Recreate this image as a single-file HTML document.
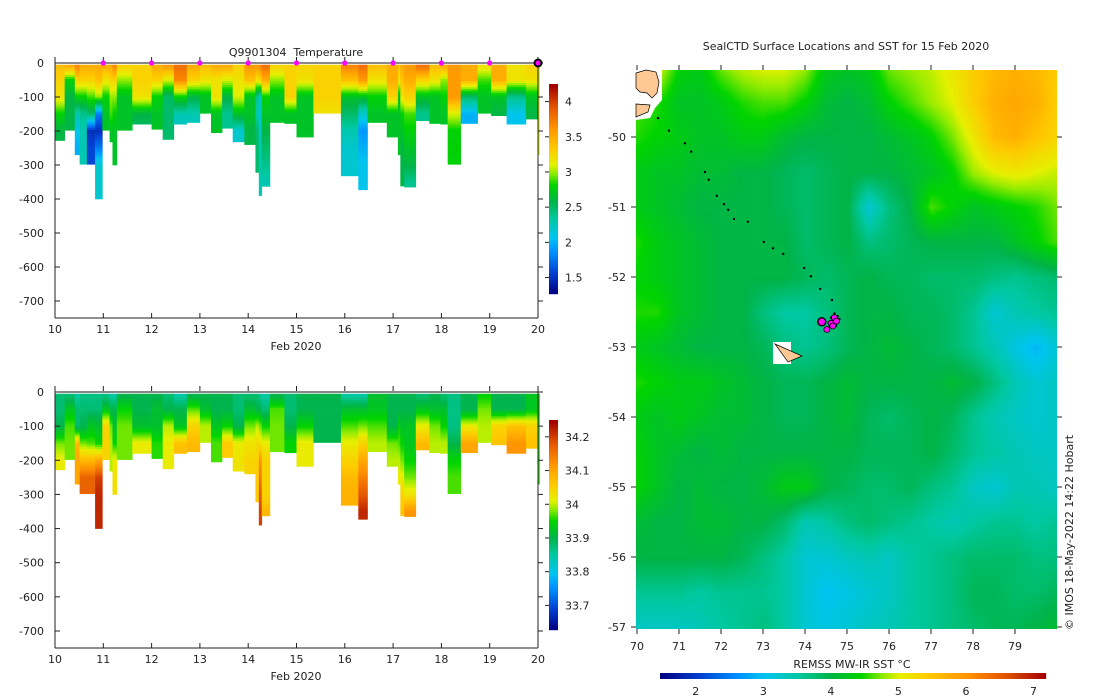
<!DOCTYPE html>
<html><head><meta charset="utf-8">
<style>
html,body{margin:0;padding:0;background:#fff;}
#root{position:relative;width:1100px;height:700px;overflow:hidden;font-family:"DejaVu Sans","Liberation Sans",sans-serif;}
svg{position:absolute;left:0;top:0;}
text{font-family:"DejaVu Sans","Liberation Sans",sans-serif;font-size:11px;fill:#222;}
canvas{position:absolute;}
</style></head>
<body>
<div id="root">
<canvas id="sst" width="421" height="559" style="left:636px;top:70px"></canvas>
<svg id="svg" width="1100" height="700"></svg>
</div>
<script>
// ---------- data ----------
const depthLevels=[10,50,100,150,200,250,300,350,400];
const profStart=[10.00,10.20,10.41,10.51,10.66,10.83,10.98,11.13,11.19,11.28,11.60,12.00,12.23,12.46,12.73,13.00,13.23,13.46,13.68,13.92,14.15,14.22,14.28,14.45,14.75,15.00,15.35,15.92,16.28,16.47,16.87,17.10,17.15,17.23,17.47,17.75,17.98,18.13,18.40,18.75,19.03,19.35,19.75,20.00];
const profEnd=[10.20,10.41,10.51,10.66,10.83,10.98,11.13,11.19,11.28,11.60,12.00,12.23,12.46,12.73,13.00,13.23,13.46,13.68,13.92,14.15,14.22,14.28,14.45,14.75,15.00,15.35,15.92,16.28,16.47,16.87,17.10,17.15,17.23,17.47,17.75,17.98,18.13,18.40,18.75,19.03,19.35,19.75,20.00,20.03];
const profMaxDepth=[228,198,270,298,298,400,198,232,300,198,180,195,225,180,175,148,205,192,232,240,322,390,363,175,178,218,148,332,373,175,218,270,362,365,170,178,180,298,178,148,155,180,165,270];
const tempProfiles=[
[3.4,3.3,3.2,2.8,2.6,2.6],[3.5,2.8,2.6,2.6,2.6],[3.7,3.3,2.8,2.3,2.1,2.0],[3.5,3.3,2.8,2.4,2.3,2.3],[3.5,3.3,2.9,2.5,1.5,1.6],
[3.5,3.4,3.0,1.8,1.5,1.8,2.2,2.2,2.2],[3.5,3.2,2.8,2.7,2.7],[3.5,3.3,3.0,2.9,2.7],[3.7,3.3,3.0,2.8,2.7,2.7,2.7],[3.3,3.0,2.7,2.7,2.7],
[3.3,3.3,3.2,2.6,2.5],[3.5,3.3,2.8,2.7,2.7],[3.6,3.1,2.5,2.5,2.5],[3.8,3.7,2.8,2.3,2.2],[3.5,3.3,2.6,2.3,2.2],
[3.4,3.2,2.7,2.7],[3.5,3.2,3.2,2.7,2.7],[3.5,3.1,2.6,2.4,2.4],[3.3,3.2,3.1,2.7,2.2],[3.6,3.4,2.7,2.7,2.6,2.6],
[3.6,3.2,2.4,2.3,2.5,2.5,2.5],[3.7,3.3,2.2,2.2,2.2,2.3,2.3,2.3,2.3],[3.8,3.5,2.8,2.7,2.6,2.5,2.4,2.3],[3.3,3.0,2.7,2.7],[3.3,3.3,3.3,2.7],
[3.3,3.2,2.7,2.7,2.7],[3.3,3.3,3.3,3.2],[3.7,3.4,2.7,2.5,2.3,2.2,2.2,2.2],[3.8,3.6,2.7,2.2,1.9,2.0,2.1,2.1,2.1],[3.4,3.2,2.8,2.7],
[3.5,3.5,3.3,2.7,2.7],[3.4,3.2,2.7,2.7,2.7,2.7],[3.5,3.4,3.2,2.8,2.7,2.6,2.6,2.6],[3.6,3.5,3.3,2.9,2.8,2.7,2.6,2.4],[3.8,3.3,2.7,2.4],
[3.4,3.2,2.7,2.7],[3.5,3.0,2.8,2.7],[3.6,3.6,3.6,3.1,2.8,2.8,2.8],[3.5,3.5,2.5,2.0],[3.2,2.9,2.7,2.7],
[3.5,3.5,2.7,2.6],[3.2,3.2,2.4,2.1],[3.3,3.2,2.7,2.6],[3.1,3.1,3.1]];
const salProfiles=[
[33.88,33.88,33.9,33.98,34.02],[33.88,33.93,33.97,33.98,33.98],[33.85,33.88,33.88,34.08,34.1,34.1],[33.87,33.88,33.9,33.98,34.08,34.17],[33.87,33.88,33.93,33.97,34.08,34.17],
[33.87,33.88,33.92,33.95,34.1,34.2,34.22,34.22,34.22],[33.87,33.93,34.05,34.05,34.05],[33.85,33.9,33.98,34.0,34.0],[33.85,33.9,33.92,33.95,34.02,34.03,34.04],[33.9,33.95,33.98,33.98,33.98],
[33.9,33.9,33.92,34.02,34.02],[33.9,33.92,33.92,33.96,33.96],[33.88,33.9,34.0,34.02,34.02],[33.85,33.9,33.93,34.07,34.08],[33.9,33.97,34.05,34.08],
[33.9,33.92,34.0,34.0],[33.9,33.9,33.93,33.97,33.97],[33.9,33.9,33.95,34.06,34.06],[33.88,33.88,33.9,34.02,34.03],[33.88,33.92,33.98,34.03,34.05],
[33.88,33.9,34.0,34.04,34.05,34.06,34.06],[33.86,33.9,33.98,34.03,34.12,34.15,34.18,34.2],[33.85,33.88,33.95,34.02,34.05,34.05,34.05,34.08],[33.9,33.97,33.98,33.98],[33.88,33.88,33.9,33.95],
[33.9,33.9,33.95,34.02,34.02],[33.9,33.9,33.9,33.9],[33.85,33.92,33.97,34.02,34.05,34.08,34.09,34.09],[33.85,33.92,33.98,34.05,34.1,34.14,34.18,34.22],[33.92,33.93,33.97,34.0],
[33.9,33.9,33.9,33.98,34.0],[33.9,33.9,33.95,33.97,34.0,34.02],[33.9,33.9,33.92,33.95,33.98,34.02,34.05,34.07],[33.9,33.9,33.93,33.93,33.95,33.98,34.03,34.12],[33.88,33.93,34.02,34.08],
[33.9,33.92,33.98,34.0],[33.88,33.92,33.95,34.0],[33.87,33.87,33.87,33.9,33.95,33.97,33.97],[33.9,33.9,34.02,34.1],[33.95,33.98,34.0,34.0],
[33.9,33.9,34.05,34.07],[33.9,33.9,34.07,34.12],[33.93,33.93,34.05,34.07],[33.95,33.95,33.96]];
const markerDays=[11,12,13,14,15,16,17,18,19];
const dayTicks=[10,11,12,13,14,15,16,17,18,19,20];
const depthTicks=[0,-100,-200,-300,-400,-500,-600,-700];
const tempCbTicks=[1.5,2,2.5,3,3.5,4];
const salCbTicks=[33.7,33.8,33.9,34,34.1,34.2];
const lonTicks=[70,71,72,73,74,75,76,77,78,79];
const latTicks=[-50,-51,-52,-53,-54,-55,-56,-57];
const sstCbTicks=[2,3,4,5,6,7];
const gridLons=[70,70.5,71,71.5,72,72.5,73,73.5,74,74.5,75,75.5,76,76.5,77,77.5,78,78.5,79,79.5,80];
const gridLats=[-49,-49.5,-50,-50.5,-51,-51.5,-52,-52.5,-53,-53.5,-54,-54.5,-55,-55.5,-56,-56.5,-57];
const sstGrid=[
[5.3,5.0,4.4,4.3,4.7,4.9,5.0,5.0,4.8,4.3,4.2,4.3,4.7,4.8,4.9,5.1,5.4,5.6,5.7,5.6,5.4],
[4.6,4.5,4.2,4.2,4.3,4.5,4.6,4.6,4.4,4.1,4.0,4.1,4.4,4.6,4.8,5.0,5.4,5.7,5.8,5.7,5.4],
[4.5,4.4,4.3,4.2,4.2,4.3,4.3,4.1,4.0,4.0,4.0,4.0,4.1,4.2,4.4,4.7,5.1,5.6,5.7,5.5,5.3],
[4.3,4.2,4.2,4.1,4.1,4.0,4.0,3.9,3.8,3.9,4.0,4.0,4.0,4.1,4.2,4.4,4.8,5.0,5.1,5.0,4.9],
[4.3,4.2,4.1,4.0,4.0,4.0,4.0,3.9,3.8,3.9,4.0,3.2,3.7,4.0,4.6,4.4,4.2,4.3,4.4,4.5,4.7],
[4.5,4.3,4.2,4.1,4.0,4.0,4.0,4.0,3.8,3.9,4.0,3.7,3.8,3.9,4.0,4.0,4.0,4.0,4.2,4.4,4.6],
[4.4,4.3,4.2,4.1,4.0,4.0,4.0,4.0,3.9,3.8,3.9,4.0,3.9,3.9,3.8,3.8,3.8,3.7,3.6,3.7,3.8],
[4.5,4.5,4.2,4.1,4.0,4.0,3.7,3.5,3.5,3.7,3.9,4.0,4.0,3.9,3.9,3.8,3.6,3.2,3.4,3.5,3.6],
[4.3,4.2,4.1,4.0,4.0,4.0,3.9,3.7,3.6,3.7,3.9,4.0,4.1,4.0,3.9,3.8,3.6,3.4,3.1,2.9,3.2],
[4.5,4.4,4.3,4.3,4.2,4.1,4.0,3.9,3.9,4.0,4.1,4.0,4.0,4.0,4.0,4.1,4.0,3.7,3.4,3.2,3.3],
[4.3,4.2,4.3,4.2,4.1,4.1,4.0,3.9,3.9,4.0,4.1,3.9,3.8,3.9,4.0,3.9,3.6,3.4,3.3,3.2,3.3],
[4.4,4.2,4.1,4.0,4.1,4.0,4.0,4.0,4.0,4.0,4.0,3.9,3.9,3.9,4.0,3.8,3.6,3.5,3.4,3.3,3.3],
[4.4,4.2,4.0,4.1,4.0,4.0,4.1,4.3,4.3,4.0,3.9,3.8,3.8,3.9,3.7,3.6,3.3,3.2,3.4,3.4,3.3],
[4.1,4.0,4.0,4.1,4.1,4.0,4.0,3.8,3.4,3.5,3.7,3.8,3.7,3.6,3.5,3.4,3.5,3.6,3.6,3.5,3.6],
[4.0,4.0,4.0,4.0,4.0,3.9,3.7,3.5,3.2,3.2,3.3,3.4,3.3,3.5,3.6,3.7,3.8,3.8,3.8,3.7,3.7],
[3.6,3.6,3.6,3.5,3.6,3.6,3.6,3.5,3.2,3.0,3.1,3.2,3.3,3.5,3.6,3.7,3.9,3.9,3.8,3.8,3.9],
[3.3,3.3,3.3,3.4,3.5,3.6,3.7,3.5,3.2,3.1,3.2,3.3,3.4,3.5,3.6,3.7,3.8,3.9,3.9,4.0,4.1]];
const trackLon=[70.50,70.76,71.14,71.29,71.62,71.71,71.90,72.07,72.17,72.31,72.64,73.02,73.24,73.48,73.98,74.14,74.36,74.64,74.70,74.62,74.78,74.66,74.74,74.58,74.82,74.55,74.68,74.72];
const trackLat=[-49.73,-49.91,-50.09,-50.21,-50.50,-50.61,-50.84,-50.96,-51.04,-51.17,-51.21,-51.50,-51.59,-51.67,-51.87,-51.99,-52.17,-52.33,-52.52,-52.58,-52.56,-52.65,-52.70,-52.72,-52.60,-52.76,-52.63,-52.68];
const surfLon=[74.40,74.62,74.70,74.75,74.66,74.52];
const surfLat=[-52.64,-52.66,-52.58,-52.63,-52.70,-52.75];

// ---------- colormap ----------
const cstops=[[0,[0,0,128]],[0.1,[0,64,208]],[0.2,[0,144,255]],[0.27,[0,196,240]],[0.36,[0,200,160]],[0.44,[0,180,72]],[0.52,[0,212,0]],[0.58,[150,236,0]],[0.62,[230,240,0]],[0.7,[255,200,0]],[0.8,[255,144,0]],[0.9,[224,80,0]],[1,[160,0,0]]];
function cmapArr(t){t=Math.max(0,Math.min(1,t));for(let i=1;i<cstops.length;i++){if(t<=cstops[i][0]){const a=cstops[i-1],b=cstops[i],f=(t-a[0])/(b[0]-a[0]);return a[1].map((v,k)=>Math.round(v+(b[1][k]-v)*f));}}return cstops[cstops.length-1][1];}
function cmap(t){const c=cmapArr(t);return`rgb(${c[0]},${c[1]},${c[2]})`;}
const NS='http://www.w3.org/2000/svg';
const svgRoot=document.getElementById('svg');
function el(tag,attrs,parent){const e=document.createElementNS(NS,tag);for(const k in attrs)e.setAttribute(k,attrs[k]);(parent||svgRoot).appendChild(e);return e;}
function txt(x,y,s,anchor,parent,extra){const t=el('text',Object.assign({x:x,y:y,'text-anchor':anchor||'middle'},extra||{}),parent);t.textContent=s;return t;}
function valAt(prof,d){if(d<=depthLevels[0])return prof[0];for(let i=1;i<prof.length;i++){if(d<=depthLevels[i]){const f=(d-depthLevels[i-1])/(depthLevels[i]-depthLevels[i-1]);return prof[i-1]+(prof[i]-prof[i-1])*f;}}return prof[prof.length-1];}

// ---------- section charts ----------
function section(cfg){
 const g=el('g',{});
 
 
 const X0=55,X1=538,xs=d=>X0+(d-10)*(X1-X0)/10;
 const ys=z=>cfg.y0+(-z)*cfg.ppm;
 for(let i=0;i<profStart.length;i++){
  const cg=el('g',{},g);
  
  
  const xa=xs(profStart[i]),xb=xs(profEnd[i]);
  for(let d=5;d<profMaxDepth[i];d+=6){
   const d2=Math.min(d+6,profMaxDepth[i]);
   const v=valAt(cfg.data[i],(d+d2)/2);
   el('rect',{x:xa.toFixed(2),y:ys(-d).toFixed(2),width:(xb-xa+0.3).toFixed(2),height:((d2-d)*cfg.ppm+0.3).toFixed(2),fill:cmap((v-cfg.vmin)/(cfg.vmax-cfg.vmin))},cg);
  }
 }
 const yBottom=ys(-750),yTop=ys(0)-6;
 el('line',{x1:X0,y1:yTop,x2:X0,y2:yBottom,stroke:'#222'},g);
 el('line',{x1:X1,y1:yTop,x2:X1,y2:yBottom,stroke:'#222'},g);
 el('line',{x1:X0,y1:yBottom,x2:X1,y2:yBottom,stroke:'#222'},g);
 el('line',{x1:X0,y1:ys(0),x2:X1,y2:ys(0),stroke:'#111'},g);
 dayTicks.forEach(d=>{el('line',{x1:xs(d),y1:yBottom,x2:xs(d),y2:yBottom-5,stroke:'#222'},g);el('line',{x1:xs(d),y1:yTop,x2:xs(d),y2:yTop+5,stroke:'#222'},g);const t=txt(xs(d),yBottom+15,String(d),'middle',g);});
 depthTicks.forEach(z=>{el('line',{x1:X0,y1:ys(z),x2:X0+5,y2:ys(z),stroke:'#222'},g);el('line',{x1:X1,y1:ys(z),x2:X1+5,y2:ys(z),stroke:'#222'},g);const t=txt(44,ys(z)+4,String(z),'end',g);});
 const xl=txt(296,yBottom+32,'Feb 2020','middle',g);
 
 
 const cb=el('g',{},g);
 
 
 const cy0=cfg.cbTop,cy1=cfg.cbBot;
 for(let y=cy0;y<cy1;y+=2){const v=cfg.vmax-(y-cy0)/(cy1-cy0)*(cfg.vmax-cfg.vmin);el('rect',{x:549,y:y,width:9,height:2.2,fill:cmap((v-cfg.vmin)/(cfg.vmax-cfg.vmin))},cb);}
 cfg.cbTicks.forEach(v=>{const y=cy1-(v-cfg.vmin)/(cfg.vmax-cfg.vmin)*(cy1-cy0);el('line',{x1:549,y1:y,x2:545,y2:y,stroke:'#222'},cb);const t=txt(565,y+4,String(v),'start',cb);});
 return {g,xs,ys};
}
const topSec=section({name:'temperature-section',y0:63,ppm:0.34,data:tempProfiles,vmin:1.28,vmax:4.25,cbTop:84,cbBot:293,cbTicks:tempCbTicks});
const tt=txt(296,56,'Q9901304\u00a0\u00a0Temperature');


markerDays.forEach(d=>{const c=el('circle',{cx:topSec.xs(d),cy:63,r:2.6,fill:'#ff00ff'});});
const cur=el('circle',{cx:topSec.xs(20),cy:63,r:3.5,fill:'#ff00ff',stroke:'#000','stroke-width':2});


section({name:'salinity-section',y0:392,ppm:0.3414,data:salProfiles,vmin:33.63,vmax:34.25,cbTop:420,cbBot:629,cbTicks:salCbTicks});

// ---------- map ----------
const MX0=636,MY0=70,MW=421,MH=559;
const lonx=l=>637+(l-70)*42, laty=a=>137+(-50-a)*70;
const cv=document.getElementById('sst'),ctx=cv.getContext('2d');
const img=ctx.createImageData(MW,MH);
for(let py=0;py<MH;py++){const lat=-50-((py+MY0)-137)/70;let fr=(-49-lat)/0.5;fr=Math.max(0,Math.min(gridLats.length-1.001,fr));const r0=Math.floor(fr),rf=fr-r0;
 for(let px=0;px<MW;px++){const lon=70+((px+MX0)-637)/42;let fc=(lon-70)/0.5;fc=Math.max(0,Math.min(gridLons.length-1.001,fc));const c0=Math.floor(fc),cf=fc-c0;
  const v=(sstGrid[r0][c0]*(1-cf)+sstGrid[r0][c0+1]*cf)*(1-rf)+(sstGrid[r0+1][c0]*(1-cf)+sstGrid[r0+1][c0+1]*cf)*rf;
  const c=cmapArr((v-1.47)/5.7);const i=(py*MW+px)*4;img.data[i]=c[0];img.data[i+1]=c[1];img.data[i+2]=c[2];img.data[i+3]=255;}}
ctx.putImageData(img,0,0);
const mg=el('g',{});


const land1=el('path',{d:'M636,70 L662,70 L662,100 L655,108 L650,118 L636,120 Z',fill:'#fff'},mg);


el('path',{d:'M636,73 L646,70 L656,72 L659,82 L657,93 L652,98 L647,93 L640,92 L636,88 Z',fill:'#fdc894',stroke:'#000','stroke-width':0.7},mg);
el('path',{d:'M636,104 L650,105 L648,112 L636,117 Z',fill:'#fdc894',stroke:'#000','stroke-width':0.7},mg);
el('rect',{x:773,y:342,width:18,height:22,fill:'#fff'},mg);
const heard=el('path',{d:'M775,344 L802,356 L788,362 Z',fill:'#fdc894',stroke:'#000','stroke-width':0.7},mg);


for(let i=0;i<trackLon.length;i++){const c=el('circle',{cx:lonx(trackLon[i]),cy:laty(trackLat[i]),r:1.2,fill:'#000'},mg);}
for(let i=0;i<surfLon.length;i++){const c=el('circle',{cx:lonx(surfLon[i]),cy:laty(surfLat[i]),r:i==0?4:3,fill:'#ff00ff',stroke:'#000','stroke-width':i==0?1.5:0.8},mg);}
lonTicks.forEach(l=>{el('line',{x1:lonx(l),y1:65,x2:lonx(l),y2:70,stroke:'#222'},mg);el('line',{x1:lonx(l),y1:629,x2:lonx(l),y2:634,stroke:'#222'},mg);const t=txt(lonx(l),650,String(l),'middle',mg);});
latTicks.forEach(a=>{el('line',{x1:631,y1:laty(a),x2:636,y2:laty(a),stroke:'#222'},mg);el('line',{x1:1057,y1:laty(a),x2:1062,y2:laty(a),stroke:'#222'},mg);const t=txt(626,laty(a)+4,String(a),'end',mg);});
const mt=txt(846,50,'SealCTD Surface Locations and SST for 15 Feb 2020','middle',mg);


const ct=txt(852,668,'REMSS MW-IR SST °C','middle',mg);


const scb=el('g',{},mg);


for(let x=660;x<1045;x+=2){const v=1.47+(x-660)/385*5.7;el('rect',{x:x,y:673,width:2.2,height:6,fill:cmap((v-1.47)/5.7)},scb);}
sstCbTicks.forEach(v=>{const x=660+(v-1.47)/5.7*385;const t=txt(x,695,String(v),'middle',scb);});
const cr=txt(0,0,'© IMOS 18-May-2022 14:22 Hobart','start',mg,{transform:'translate(1073,630) rotate(-90)','font-size':'10'});


</script>
</body></html>
